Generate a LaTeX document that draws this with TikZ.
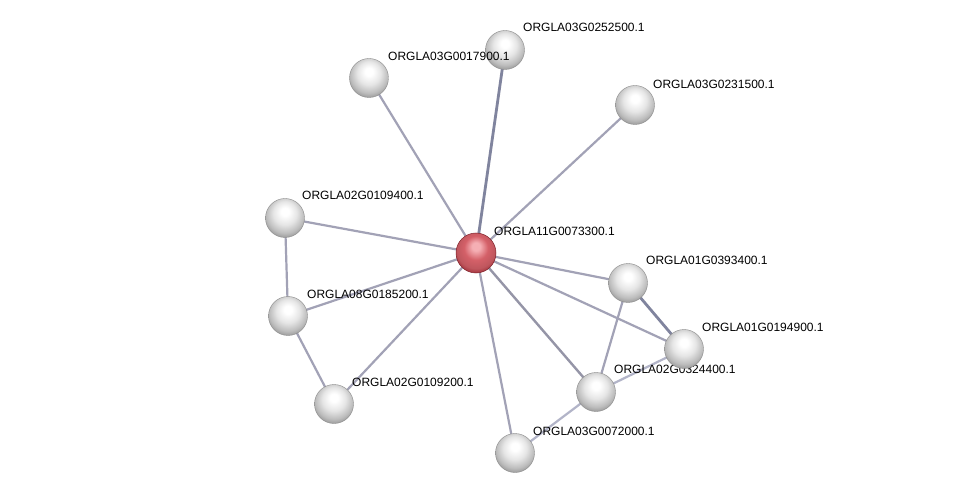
\documentclass[tikz,border=0pt]{standalone}
\usepackage{fontspec}
\setmainfont{Liberation Sans}
\pgfdeclarelayer{bg}
\pgfdeclarelayer{edges}
\pgfdeclarelayer{labels}
\pgfsetlayers{bg,edges,labels,main}
\definecolor{edgec}{RGB}{162,162,182}
\definecolor{edgelt}{RGB}{178,180,200}
\definecolor{edgedk}{RGB}{128,132,158}
\definecolor{redhi}{RGB}{245,175,180}
\definecolor{redmid}{RGB}{212,96,104}
\definecolor{redlo}{RGB}{160,45,55}
\pgfdeclareradialshading{sphgray}{\pgfpoint{0bp}{9bp}}{color(0bp)=(white); color(5bp)=(white); color(15bp)=(black!10); color(24bp)=(black!26); color(30bp)=(black!42); color(34bp)=(black!50); color(50bp)=(black!50)}
\pgfdeclareradialshading{sphred}{\pgfpoint{0bp}{9bp}}{color(0bp)=(redhi); color(5bp)=(redhi); color(15bp)=(redmid); color(24bp)=(redmid!90!black); color(30bp)=(redlo); color(34bp)=(redlo); color(50bp)=(redlo)}
\tikzset{
  prot/.style={circle, minimum size=39bp, inner sep=0pt, shading=sphgray, draw=black!45, line width=0.4bp},
  hub/.style={circle, minimum size=40bp, inner sep=0pt, shading=sphred, draw=redlo!80!black, line width=0.5bp},
  lab/.style={anchor=west, inner sep=0pt, font=\fontsize{12bp}{14bp}\selectfont, text=black},
  ed/.style={draw=edgec, line width=2.2bp},
  edm/.style={draw=edgec!92!black, line width=2.4bp},
  edl/.style={draw=edgelt, line width=2.2bp},
  edk/.style={draw=edgedk, line width=2.8bp},
}
\begin{document}
\begin{tikzpicture}[x=1bp,y=-1bp]
\begin{pgfonlayer}{bg}
\fill[white] (0,0) rectangle (976,498);
\end{pgfonlayer}
\useasboundingbox (0,0) rectangle (976,498);
% nodes
\node[hub]  (c)   at (476,253) {};
\node[prot] (n1)  at (505,50)  {};
\node[prot] (n2)  at (369,78)  {};
\node[prot] (n3)  at (635,105) {};
\node[prot] (n4)  at (285,218) {};
\node[prot] (n5)  at (288,316) {};
\node[prot] (n6)  at (334,404) {};
\node[prot] (n7)  at (515,453) {};
\node[prot] (n8)  at (596,392) {};
\node[prot] (n9)  at (684,349) {};
\node[prot] (n10) at (628,283) {};
\node[lab] (l2)  at (388,56)  {ORGLA03G0017900.1};
% labels
\begin{pgfonlayer}{labels}
\node[lab] (lc)  at (494,231) {ORGLA11G0073300.1};
\node[lab] (l1)  at (523,27)  {ORGLA03G0252500.1};
\node[lab] (l3)  at (653,84)  {ORGLA03G0231500.1};
\node[lab] (l4)  at (302,195) {ORGLA02G0109400.1};
\node[lab] (l5)  at (307,294) {ORGLA08G0185200.1};
\node[lab] (l6)  at (352,382) {ORGLA02G0109200.1};
\node[lab] (l7)  at (533,431) {ORGLA03G0072000.1};
\node[lab] (l8)  at (614,369) {ORGLA02G0324400.1};
\node[lab] (l9)  at (702,327) {ORGLA01G0194900.1};
\node[lab] (l10) at (646,260) {ORGLA01G0393400.1};
\end{pgfonlayer}
% edges
\begin{pgfonlayer}{edges}
\draw[edk] (c.center) -- (n1.center);
\draw[ed]  (c.center) -- (n2.center);
\draw[ed]  (c.center) -- (n3.center);
\draw[ed]  (c.center) -- (n4.center);
\draw[ed]  (c.center) -- (n5.center);
\draw[ed]  (c.center) -- (n6.center);
\draw[ed]  (c.center) -- (n7.center);
\draw[edm] (c.center) -- (n8.center);
\draw[ed]  (c.center) -- (n9.center);
\draw[ed]  (c.center) -- (n10.center);
\draw[ed]  (n4.center) -- (n5.center);
\draw[ed]  (n5.center) -- (n6.center);
\draw[edk] (n10.center) -- (n9.center);
\draw[ed]  (n10.center) -- (n8.center);
\draw[edl] (n8.center) -- (n9.center);
\draw[edl] (n8.center) -- (n7.center);
\end{pgfonlayer}
\end{tikzpicture}
\end{document}
